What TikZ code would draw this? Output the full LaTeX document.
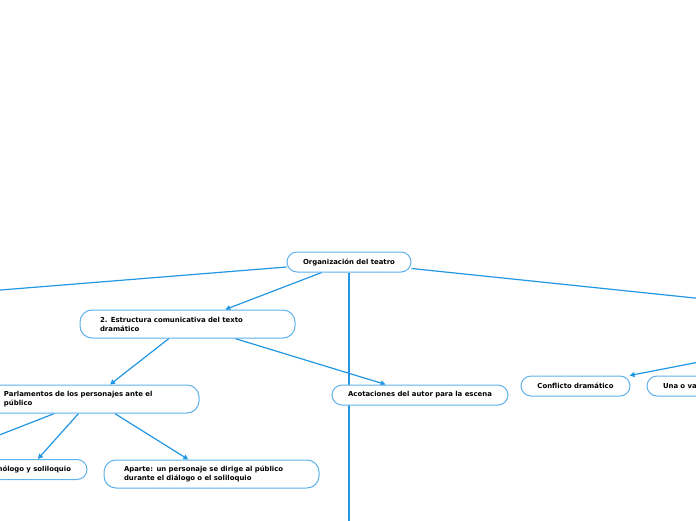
\documentclass[tikz,border=0pt]{standalone}
\usepackage{fontspec}
\setmainfont{DejaVu Sans}
\usetikzlibrary{arrows.meta,positioning,backgrounds}
\definecolor{mmline}{HTML}{2196E3}
\definecolor{mmborder}{HTML}{5DB2EC}
\tikzset{
  mm/topic/.style={draw=mmborder, line width=1pt, fill=white, rounded corners=10pt, minimum height=20pt, inner xsep=16pt, inner ysep=2pt, align=center, font=\fontsize{6.9}{9}\selectfont\bfseries},
  mm/long/.style={mm/topic, rounded corners=12pt, minimum height=28pt, text width=175pt, inner xsep=20pt, align=left},
  mm/link/.style={draw=mmline, line width=1.2pt},
  mm/arrow/.style={mm/link, -{Triangle[length=5pt,width=5pt]}}
}

\begin{document}
\begin{tikzpicture}[x=1pt, y=-1pt]
  \useasboundingbox (0,0) rectangle (696,520);

  \node[mm/topic, minimum width=124pt] (root) at (349,262) {Organización del teatro};
  \node[mm/long] (estr) at (187.5,324) {2. Estructura comunicativa del texto\\dramático};
  \node[mm/long] (parl) at (91.5,399) {Parlamentos de los personajes ante el\\público};
  \node[mm/topic, minimum width=117pt] (mono) at (28.5,469.5) {Monólogo y soliloquio};
  \node[mm/long] (apar) at (211.5,474) {Aparte: un personaje se dirige al público\\durante el diálogo o el soliloquio};
  \node[mm/topic, minimum width=176pt] (acot) at (420,395) {Acotaciones del autor para la escena};
  \node[mm/topic, minimum width=109pt] (confl) at (575.5,386) {Conflicto dramático};
  \node[mm/topic, text width=100pt, align=left, right=16pt of confl] (una) {Una o va};

  % ends of links that leave the picture
  \coordinate (offleft) at (-100,298.1);
  \coordinate (offright) at (760,304.8);
  \coordinate (offdown) at (349,560);
  \coordinate (offparl) at (-40,450.4);
  \coordinate (offconf) at (760,350.2);

  \begin{scope}[on background layer]
    \draw[mm/link] (root) -- (offleft);
    \draw[mm/link] (root) -- (offright);
    \draw[mm/link] (root) -- (offdown);
    \draw[mm/arrow] (root) -- (estr);

    \draw[mm/arrow] (estr) -- (parl);
    \draw[mm/arrow] (estr) -- (acot);

    \draw[mm/link] (parl) -- (offparl);
    \draw[mm/arrow] (parl) -- (mono);
    \draw[mm/arrow] (parl) -- (apar);

    \draw[mm/arrow] (offconf) -- (confl);
  \end{scope}
\end{tikzpicture}
\end{document}
